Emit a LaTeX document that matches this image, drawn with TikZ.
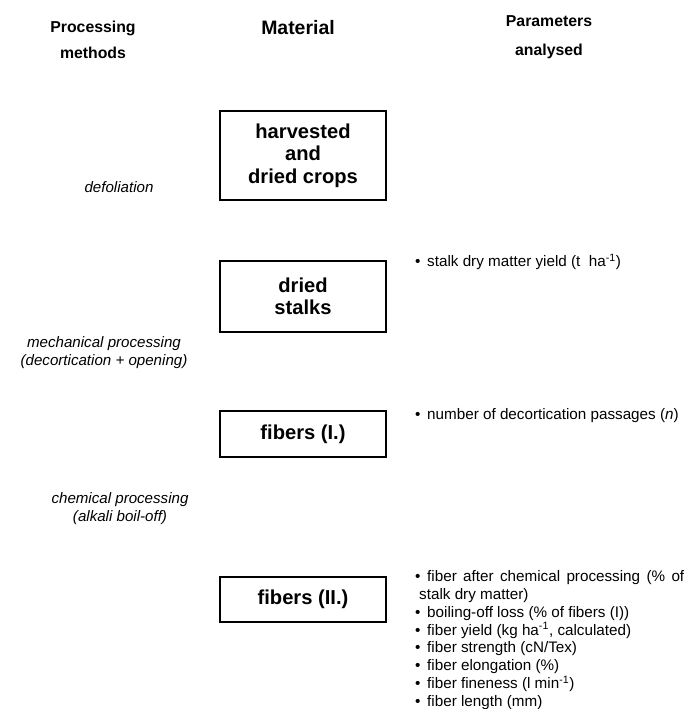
\documentclass[tikz,border=0pt]{standalone}
\usepackage{fontspec}
\setmainfont{Liberation Sans}
\usetikzlibrary{positioning}

\newcommand{\itm}{\makebox[0.36cm][l]{\textbullet}}

\begin{document}
\begin{tikzpicture}[
    x=0.03cm, y=-0.03cm,
    header/.style={
        font=\bfseries\fontsize{13.5}{22}\selectfont,
        align=center
    },
    material/.style={
        draw,
        line width=0.9pt,
        align=center,
        minimum width=4.98cm,
        font=\bfseries\fontsize{17.2}{19.2}\selectfont
    },
    method/.style={
        font=\itshape\fontsize{12.9}{15.3}\selectfont,
        align=center
    },
    param/.style={
        font=\fontsize{13}{15.3}\selectfont,
        align=left,
        anchor=north west,
        inner sep=0pt
    }
]
\useasboundingbox (0,0) rectangle (691,709);

% ------------------------------------------------
% Column headers
% ------------------------------------------------

\node[header] (hmeth) at (93, 40) {Processing\\methods};
\node[header, font=\bfseries\fontsize{16.6}{18}\selectfont] (hmat) at (298, 28) {Material};
\node[header, font=\bfseries\fontsize{13.5}{24.6}\selectfont] (hpar) at (549, 37.5) {Parameters\\analysed};

% ------------------------------------------------
% Material boxes
% ------------------------------------------------

\node[material, minimum height=2.67cm] (crops) at (303, 155.5)
    {harvested\\and\\dried crops};

\node[material, minimum height=2.13cm] (stalks) at (303, 296.5)
    {dried\\stalks};

\node[material, minimum height=1.38cm] (fibI) at (303, 434)
    {fibers (I.)};

\node[material, minimum height=1.35cm] (fibII) at (303, 599.5)
    {fibers (II.)};

% ------------------------------------------------
% Processing methods
% ------------------------------------------------

\node[method] (defol) at (119, 187) {defoliation};
\node[method] (mech) at (104, 353)
    {mechanical processing\\(decortication + opening)};
\node[method] (chem) at (120, 509)
    {chemical processing\\(alkali boil-off)};

% ------------------------------------------------
% Parameters analysed
% ------------------------------------------------

\node[param] (pstalk) at (415, 254)
    {\itm stalk dry matter yield (t\ \ ha\textsuperscript{-1})};

\node[param] (pfibI) at (415, 408)
    {\itm number of decortication passages (\textit{n})};

\node[param] (pfibII) at (415, 570)
    {\itm\makebox[7.71cm][s]{fiber after chemical processing (\% of}\\
     \hspace*{0.12cm}stalk dry matter)\\
     \itm boiling-off loss (\% of fibers (I))\\
     \itm fiber yield (kg ha\textsuperscript{-1}, calculated)\\
     \itm fiber strength (cN/Tex)\\
     \itm fiber elongation (\%)\\
     \itm fiber fineness (l min\textsuperscript{-1})\\
     \itm fiber length (mm)};

\end{tikzpicture}
\end{document}
